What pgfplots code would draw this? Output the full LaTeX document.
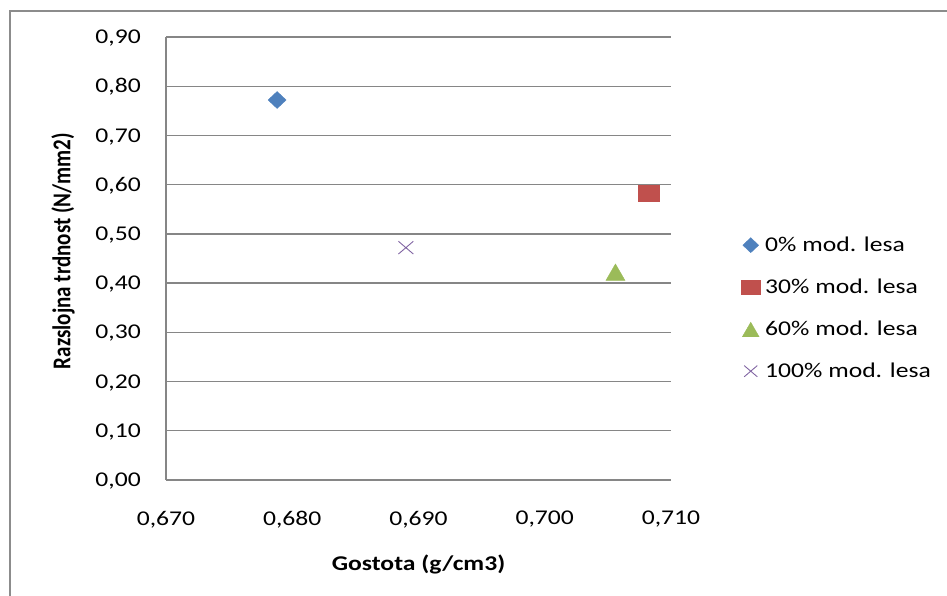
\documentclass[border=0pt]{standalone}
\usepackage{fontspec}
\setmainfont{Carlito}[FakeStretch=1.22]
\newfontfamily\ylabfont{Carlito}
\usepackage{pgfplots}
\pgfplotsset{compat=1.18}
\definecolor{c0}{HTML}{4F81BD}
\definecolor{c1}{HTML}{C0504D}
\definecolor{c2}{HTML}{9BBB59}
\definecolor{c3}{HTML}{8064A2}
\definecolor{gridc}{HTML}{868686}
\definecolor{framec}{HTML}{8C8C8C}
\begin{document}
\begin{tikzpicture}
\path[use as bounding box] (0,0) rectangle (947pt,596pt);
\draw[framec, line width=2pt] (9.5pt,-10pt) -- (9.5pt,584.5pt) -- (960pt,584.5pt);
\begin{axis}[
  at={(166pt,116pt)}, anchor=south west,
  scale only axis, width=505pt, height=443pt,
  xmin=0.670, xmax=0.710, ymin=0, ymax=0.9,
  xtick={0.67,0.68,0.69,0.70,0.71},
  ytick={0,0.1,0.2,0.3,0.4,0.5,0.6,0.7,0.8,0.9},
  axis x line*=bottom, axis y line*=left,
  axis line style={gridc, line width=1.3pt, -},
  ymajorgrids, major grid style={gridc, line width=1.3pt},
  major tick length=0pt,
  /pgf/number format/assume math mode=true,
  xticklabel style={font=\fontsize{21}{25}\selectfont, inner sep=0pt, anchor=north, yshift=-31pt,
    /pgf/number format/.cd, fixed, fixed zerofill, precision=3, use comma},
  yticklabel style={font=\fontsize{21}{25}\selectfont, inner sep=0pt, anchor=base east, xshift=-25pt, yshift=-6.6pt,
    /pgf/number format/.cd, fixed, fixed zerofill, precision=2, use comma},
  scaled x ticks=false, scaled y ticks=false,
  xlabel={\bfseries Gostota (g/cm3)},
  xlabel style={font=\fontsize{21}{25}\selectfont, at={(axis description cs:0.5,-0.2032)}, anchor=base, inner sep=0pt},
  ylabel={\scalebox{1}[1.22]{\ylabfont\bfseries Razslojna trdnost (N/mm2)}},
  ylabel style={font=\fontsize{21}{25}\selectfont, at={(axis description cs:-0.204,0.517)}, anchor=center, inner sep=0pt},
  legend style={at={(1.1396,0.549)}, anchor=north west, draw=none, fill=none, inner sep=0pt, outer sep=0pt,
    row sep=23pt, column sep=0pt, font=\fontsize{21}{25}\selectfont,
    nodes={inner sep=0pt, text height=15pt, text depth=4pt, anchor=base west},
    cells={anchor=base west}},
  legend image code/.code={\path[draw=none, fill=none] (-9pt,-4pt) rectangle (14.5pt,15pt);
    \draw[#1, mark size=0.88*\pgfplotmarksize] plot coordinates {(0pt,6.6pt)};},
  clip=false,
]
\addplot[only marks, mark=square*, mark size=6pt, color=c0, mark options={xscale=1.06, rotate=45, fill=c0, draw=c0}]
  coordinates {(0.6788,0.772)};
\addlegendentry{0\% mod. lesa}
\addplot[only marks, mark=square*, mark size=8.4pt, color=c1, mark options={xscale=1.25, fill=c1, draw=c1}]
  coordinates {(0.7082,0.5825)};
\addlegendentry{30\% mod. lesa}
\addplot[only marks, mark=triangle*, mark size=11pt, color=c2, mark options={yshift=-2.75pt, fill=c2, draw=c2}]
  coordinates {(0.7056,0.4222)};
\addlegendentry{60\% mod. lesa}
\addplot[only marks, mark=x, mark size=9pt, color=c3, line width=0.9pt, mark options={xscale=1.17, draw=c3}]
  coordinates {(0.6890,0.472)};
\addlegendentry{100\% mod. lesa}
\end{axis}
\end{tikzpicture}
\end{document}
